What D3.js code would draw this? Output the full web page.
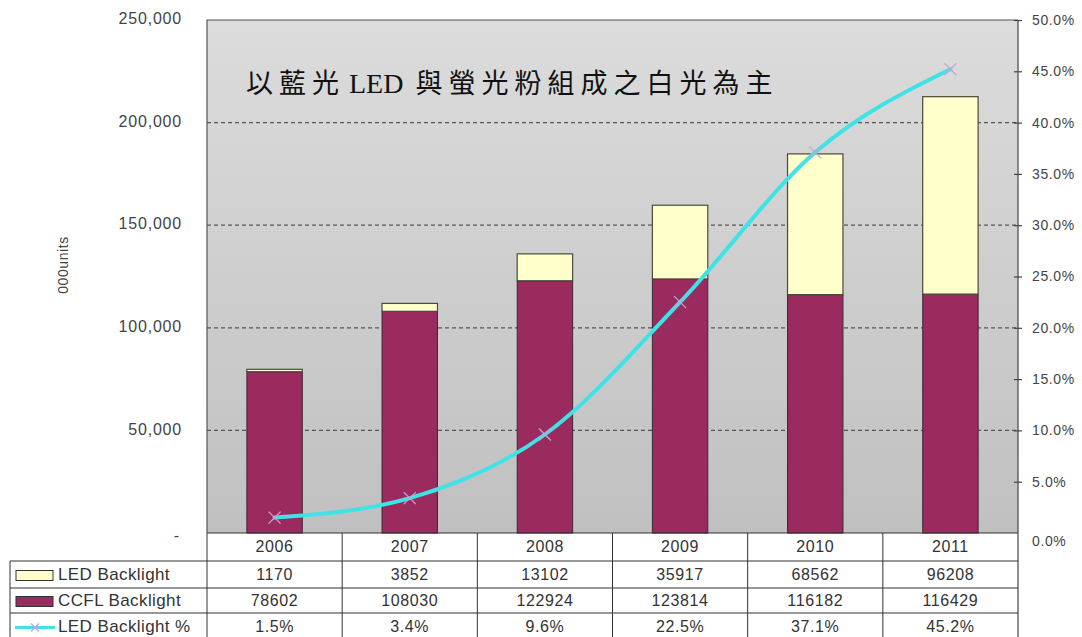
<!DOCTYPE html>
<html>
<head>
<meta charset="utf-8">
<script src="https://cdn.jsdelivr.net/npm/d3@7"></script>
<style>
  html, body { margin: 0; padding: 0; background: #fff; }
  svg { display: block; }
</style>
</head>
<body>
<svg id="chart" width="1082" height="637"></svg>
<script>
// Backlight shipments by year (thousand units) and LED share
const years = ["2006", "2007", "2008", "2009", "2010", "2011"];
const ledUnits = [1170, 3852, 13102, 35917, 68562, 96208];
const ccflUnits = [78602, 108030, 122924, 123814, 116182, 116429];
const ledShare = [1.5, 3.4, 9.6, 22.5, 37.1, 45.2];
const ledShareLabels = ["1.5%", "3.4%", "9.6%", "22.5%", "37.1%", "45.2%"];
const leftTicks = [0, 50000, 100000, 150000, 200000, 250000];
const rightTicks = [0, 5, 10, 15, 20, 25, 30, 35, 40, 45, 50];
const seriesNames = ["LED Backlight", "CCFL Backlight", "LED Backlight %"];
const captionParts = ["以藍光", "LED", "與螢光粉組成之白光為主"];

const svg = d3.select("#chart");
const plot = { left: 207, right: 1018, top: 20, bottom: 533 };

const x = d3.scaleBand().domain(years).range([plot.left, plot.right]);
const yL = d3.scaleLinear().domain([0, 250000]).range([plot.bottom, plot.top]);
const yR = d3.scaleLinear().domain([0, 50]).range([plot.bottom, plot.top]);

const colors = { led: "#ffffcc", ccfl: "#9b2a5e", line: "#3fe3e6", marker: "#c8a2d2" };
const sans = "Liberation Sans, Arial, sans-serif";

// Plot background gradient
const defs = svg.append("defs");
const grad = defs.append("linearGradient").attr("id", "bg").attr("x1", 0).attr("y1", 0).attr("x2", 0).attr("y2", 1);
grad.append("stop").attr("offset", "0%").attr("stop-color", "#dcdcdc");
grad.append("stop").attr("offset", "100%").attr("stop-color", "#c0c0c0");

svg.append("rect")
  .attr("x", plot.left).attr("y", plot.top)
  .attr("width", plot.right - plot.left).attr("height", plot.bottom - plot.top)
  .attr("fill", "url(#bg)");

// Dashed gridlines
svg.append("g").selectAll("line")
  .data(leftTicks.filter(d => d > 0 && d < 250000))
  .join("line")
  .attr("x1", plot.left).attr("x2", plot.right)
  .attr("y1", d => yL(d)).attr("y2", d => yL(d))
  .attr("stroke", "#555").attr("stroke-width", 1.2).attr("stroke-dasharray", "4,3");

// Stacked bars
const barW = x.bandwidth() * 0.41;
const bars = svg.append("g");
years.forEach((yr, i) => {
  const cx = x(yr) + x.bandwidth() / 2;
  bars.append("rect")
    .attr("x", cx - barW / 2).attr("width", barW)
    .attr("y", yL(ccflUnits[i])).attr("height", yL(0) - yL(ccflUnits[i]))
    .attr("fill", colors.ccfl).attr("stroke", "#3a2a30").attr("stroke-width", 1);
  bars.append("rect")
    .attr("x", cx - barW / 2).attr("width", barW)
    .attr("y", yL(ccflUnits[i] + ledUnits[i])).attr("height", yL(ccflUnits[i]) - yL(ccflUnits[i] + ledUnits[i]))
    .attr("fill", colors.led).attr("stroke", "#4a4a3a").attr("stroke-width", 1.2);
});

// Plot frame (left and top)
svg.append("path")
  .attr("d", `M${plot.left},${plot.bottom}V${plot.top}H${plot.right}`)
  .attr("fill", "none").attr("stroke", "#555").attr("stroke-width", 1.2);

// LED share line
const line = d3.line()
  .x((d, i) => x(years[i]) + x.bandwidth() / 2)
  .y(d => yR(d))
  .curve(d3.curveMonotoneX);
svg.append("path").datum(ledShare)
  .attr("d", line)
  .attr("fill", "none").attr("stroke", colors.line).attr("stroke-width", 4)
  .attr("stroke-linejoin", "round").attr("stroke-linecap", "round");
svg.append("g").selectAll("path")
  .data(ledShare)
  .join("path")
  .attr("d", (d, i) => {
    const cx = x(years[i]) + x.bandwidth() / 2, cy = yR(d), s = 6;
    return `M${cx - s},${cy - s}L${cx + s},${cy + s}M${cx - s},${cy + s}L${cx + s},${cy - s}`;
  })
  .attr("stroke", colors.marker).attr("stroke-width", 1.3);

// Left axis labels
const fmt = d3.format(",");
svg.append("g").selectAll("text")
  .data(leftTicks)
  .join("text")
  .attr("x", d => d === 0 ? 180 : 182)
  .attr("y", d => yL(d) + (d === 0 ? 4 : 0))
  .attr("text-anchor", "end").attr("dominant-baseline", "middle")
  .attr("font-family", sans).attr("font-size", 16).attr("letter-spacing", 0.8)
  .attr("fill", "#444")
  .text(d => d === 0 ? "-" : fmt(d));

// Left axis title
svg.append("text")
  .attr("transform", `translate(64,${265}) rotate(-90)`)
  .attr("text-anchor", "middle").attr("dominant-baseline", "middle")
  .attr("font-family", sans).attr("font-size", 14).attr("letter-spacing", 0.6)
  .attr("fill", "#444")
  .text("000units");

// Right axis
const rightAxis = d3.axisRight(yR).tickValues(rightTicks).tickSize(0).tickFormat(d => d.toFixed(1) + "%");
const ra = svg.append("g").attr("transform", `translate(${plot.right},0)`).call(rightAxis);
ra.select(".domain").attr("stroke", "#444").attr("stroke-width", 1.2)
  .attr("d", `M0,${plot.top}V${plot.bottom + 105}`);
ra.selectAll(".tick text")
  .attr("x", 14)
  .attr("dy", d => d === 0 ? "0.9em" : "0.32em")
  .attr("font-family", sans).attr("font-size", 14).attr("letter-spacing", 0.6)
  .attr("fill", "#444");
ra.selectAll(".tick").filter(d => d > 0).append("line")
  .attr("x1", -4).attr("x2", 4).attr("stroke", "#444").attr("stroke-width", 1.2);

// Caption inside the plot
const cap = svg.append("text")
  .attr("x", 246).attr("y", 93)
  .attr("font-family", "Liberation Serif, 'Noto Sans CJK TC', serif").attr("font-size", 27)
  .attr("fill", "#111");
cap.append("tspan").attr("letter-spacing", 6).text(captionParts[0]);
cap.append("tspan").attr("dx", 4).attr("font-size", 28).attr("letter-spacing", 0).text(captionParts[1]);
cap.append("tspan").attr("dx", 12).attr("letter-spacing", 6).text(captionParts[2]);

// Data table
const table = svg.append("g");
const rowY = [533, 561, 588, 613, 640];
const tableLeft = 10;
const textStyle = sel => sel
  .attr("font-family", sans).attr("font-size", 16).attr("letter-spacing", 0.6)
  .attr("fill", "#333").attr("dominant-baseline", "middle");
const stroke = "#333";

// horizontal lines
table.append("line").attr("x1", plot.left).attr("x2", plot.right).attr("y1", rowY[0]).attr("y2", rowY[0])
  .attr("stroke", stroke).attr("stroke-width", 1.2);
rowY.slice(1).forEach(yv => {
  table.append("line").attr("x1", tableLeft).attr("x2", plot.right).attr("y1", yv).attr("y2", yv)
    .attr("stroke", stroke).attr("stroke-width", 1);
});
// vertical lines
table.append("line").attr("x1", tableLeft).attr("x2", tableLeft).attr("y1", rowY[1]).attr("y2", rowY[4])
  .attr("stroke", stroke).attr("stroke-width", 1);
years.forEach(yr => {
  table.append("line").attr("x1", x(yr)).attr("x2", x(yr)).attr("y1", rowY[0]).attr("y2", rowY[4])
    .attr("stroke", stroke).attr("stroke-width", 1);
});

// year header
years.forEach(yr => {
  table.append("text").call(textStyle)
    .attr("x", x(yr) + x.bandwidth() / 2).attr("y", (rowY[0] + rowY[1]) / 2 + 1)
    .attr("text-anchor", "middle").text(yr);
});

const rows = [ledUnits.map(String), ccflUnits.map(String), ledShareLabels];
rows.forEach((vals, r) => {
  const cy = (rowY[r + 1] + rowY[r + 2]) / 2 + 1;
  vals.forEach((v, i) => {
    table.append("text").call(textStyle)
      .attr("x", x(years[i]) + x.bandwidth() / 2).attr("y", cy)
      .attr("text-anchor", "middle").text(v);
  });
  // legend keys
  if (r < 2) {
    table.append("rect")
      .attr("x", 16).attr("y", cy - 5).attr("width", 37).attr("height", 10)
      .attr("fill", r === 0 ? colors.led : colors.ccfl).attr("stroke", "#333").attr("stroke-width", 1);
  } else {
    table.append("line").attr("x1", 15).attr("x2", 55).attr("y1", cy).attr("y2", cy)
      .attr("stroke", colors.line).attr("stroke-width", 3);
    table.append("path")
      .attr("d", `M31,${cy - 4}L39,${cy + 4}M31,${cy + 4}L39,${cy - 4}`)
      .attr("stroke", colors.marker).attr("stroke-width", 1.2);
  }
  table.append("text").call(textStyle)
    .attr("x", 58).attr("y", cy).attr("font-size", 17).attr("letter-spacing", 0.4)
    .text(seriesNames[r]);
});
</script>
</body>
</html>
